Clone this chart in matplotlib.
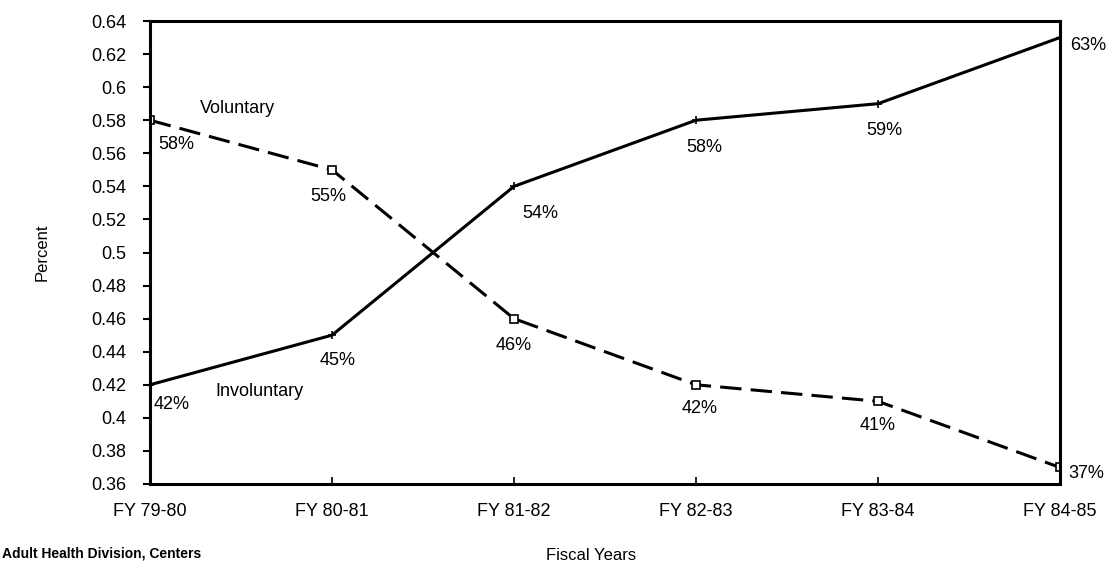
import numpy as np
import matplotlib
matplotlib.use("Agg")
import matplotlib.pyplot as plt

plt.rcParams['font.family'] = ['Liberation Sans Narrow', 'Liberation Sans', 'DejaVu Sans']

# data
years = ["FY 79-80", "FY 80-81", "FY 81-82", "FY 82-83", "FY 83-84", "FY 84-85"]
voluntary = [0.58, 0.55, 0.46, 0.42, 0.41, 0.37]
involuntary = [0.42, 0.45, 0.54, 0.58, 0.59, 0.63]
y_ticks = [0.36, 0.38, 0.40, 0.42, 0.44, 0.46, 0.48, 0.50, 0.52, 0.54, 0.56, 0.58, 0.60, 0.62, 0.64]
y_tick_labels = ["0.36", "0.38", "0.4", "0.42", "0.44", "0.46", "0.48", "0.5",
                 "0.52", "0.54", "0.56", "0.58", "0.6", "0.62", "0.64"]

# label offsets in pixels (dx, dy)
vol_offsets = [(26, -24), (-4, -27), (0, -27), (4, -24), (0, -24), (26, -6)]
inv_offsets = [(22, -20), (6, -25), (26, -27), (8, -27), (6, -27), (28, -8)]

fig = plt.figure(figsize=(11.08, 5.64), dpi=100)
ax = fig.add_axes([150 / 1108, 1 - 484 / 564, 910 / 1108, 463 / 564])

x = np.arange(len(years))
ax.plot(x, voluntary, color='black', linewidth=2.2, linestyle=(0, (7, 3)),
        marker='s', markersize=6, markerfacecolor='white', markeredgewidth=1.2)
ax.plot(x, involuntary, color='black', linewidth=2.2, linestyle='-',
        marker='+', markersize=6, markeredgewidth=1.2)

for i in range(len(years)):
    ax.annotate(f"{round(voluntary[i] * 100)}%", (x[i], voluntary[i]),
                xytext=vol_offsets[i], textcoords='offset pixels',
                ha='center', va='center', fontsize=13)
    ax.annotate(f"{round(involuntary[i] * 100)}%", (x[i], involuntary[i]),
                xytext=inv_offsets[i], textcoords='offset pixels',
                ha='center', va='center', fontsize=13)

ax.text(0.48, 0.587, "Voluntary", ha='center', va='center', fontsize=13)
ax.text(0.60, 0.416, "Involuntary", ha='center', va='center', fontsize=13)

ax.set_xlim(0, 5)
ax.set_ylim(0.36, 0.64)
ax.set_xticks(x)
ax.set_xticklabels(years, fontsize=13)
ax.set_yticks(y_ticks)
ax.set_yticklabels(y_tick_labels, fontsize=13)
ax.tick_params(axis='y', direction='out', length=5, width=1.5, pad=12)
ax.tick_params(axis='x', direction='in', length=5, width=1.2, pad=14)

for side in ['left', 'right', 'top', 'bottom']:
    ax.spines[side].set_linewidth(2.2)

ax.set_xlabel("Fiscal Years", fontsize=12, labelpad=20, x=0.485)
ax.set_ylabel("Percent", fontsize=12, labelpad=30)

fig.text(0.002, 0.006, "Adult Health Division, Centers", fontsize=10,
         fontweight='bold', ha='left', va='bottom')

fig.savefig("out.png", dpi=100)
